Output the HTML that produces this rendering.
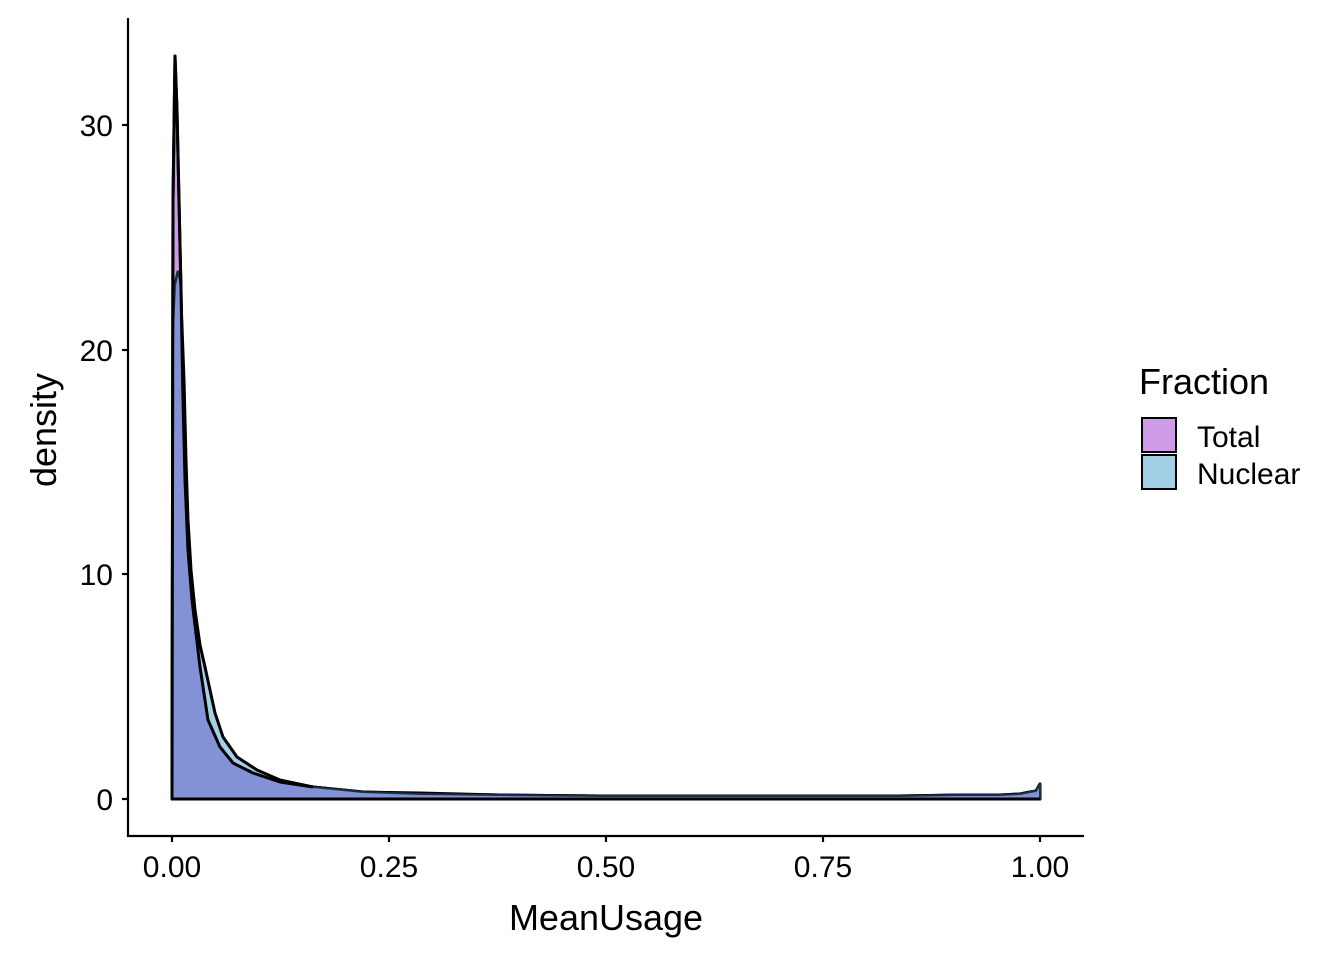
<!DOCTYPE html><html><head><style>body{margin:0;background:#fff}svg{display:block;font-family:"Liberation Sans",Arial,sans-serif}</style></head><body>
<svg width="1344" height="960" xmlns="http://www.w3.org/2000/svg">
<g stroke-linejoin="round">
<path d="M172,799 L173,200 L175,56 L177,110 L179,200 L181,290 L183,400 L185,480 L188,550 L192,600 L200,667 L208,720 L220,747 L233,763 L253,773 L280,782 L313,787 L363,792 L420,794 L500,795 L600,796 L700,796 L800,796 L900,796 L960,795 L1000,795 L1020,794 L1030,792 L1036,791 L1040,784 L1040,799 Z" fill="#CF9AE8" stroke="#000" stroke-width="3"/>
<path d="M172,799 L173,330 L175,285 L178,272 L181,300 L184,380 L186,460 L188,520 L191,570 L195,610 L200,645 L205,667 L215,713 L223,737 L237,757 L257,770 L280,780 L313,787 L363,792 L420,793 L500,795 L600,796 L700,796 L800,796 L900,796 L960,795 L1000,795 L1020,794 L1030,792 L1036,791 L1040,784 L1040,799 Z" fill="#A3D0E6" stroke="#000" stroke-width="3"/>
<path d="M172,799 L173,330 L175,285 L178,272 L180,280 L181,290 L183,400 L185,480 L188,550 L192,600 L200,667 L208,720 L220,747 L233,763 L253,773 L280,782 L313,787 L363,792 L420,794 L500,795 L600,796 L700,796 L800,796 L900,796 L960,795 L1000,795 L1020,794 L1030,792 L1036,791 L1040,784 L1040,799 Z" fill="#8391D6" stroke="#1a3040" stroke-width="2"/>
<path d="M172,799 L173,200 L175,56 L177,110 L179,200 L181,290 L183,400 L185,480 L188,550 L192,600 L200,667 L208,720 L220,747 L233,763 L253,773 L280,782 L313,787" fill="none" stroke="#000" stroke-width="3"/>
<line x1="172" y1="799" x2="1040" y2="799" stroke="#000" stroke-width="3"/>
</g>
<g stroke="#000" stroke-width="2.2">
<line x1="128" y1="18" x2="128" y2="837"/>
<line x1="127" y1="836" x2="1084" y2="836"/>
<line x1="122" y1="799" x2="128" y2="799"/><line x1="122" y1="574" x2="128" y2="574"/><line x1="122" y1="350" x2="128" y2="350"/><line x1="122" y1="125" x2="128" y2="125"/>
<line x1="172" y1="836" x2="172" y2="842"/><line x1="389" y1="836" x2="389" y2="842"/><line x1="606" y1="836" x2="606" y2="842"/><line x1="823" y1="836" x2="823" y2="842"/><line x1="1040" y1="836" x2="1040" y2="842"/>
</g>
<g font-size="30" fill="#000" text-anchor="end">
<text x="113" y="810">0</text><text x="113" y="585">10</text><text x="113" y="361">20</text><text x="113" y="136">30</text>
</g>
<g font-size="30" fill="#000" text-anchor="middle">
<text x="172" y="877">0.00</text><text x="389" y="877">0.25</text><text x="606" y="877">0.50</text><text x="823" y="877">0.75</text><text x="1040" y="877">1.00</text>
</g>
<text x="606" y="930" font-size="36" text-anchor="middle">MeanUsage</text>
<text transform="translate(56,430) rotate(-90)" font-size="36" text-anchor="middle">density</text>
<text x="1139" y="394" font-size="36">Fraction</text>
<rect x="1142" y="418" width="34" height="34" fill="#CF9AE8" stroke="#000" stroke-width="2"/>
<rect x="1142" y="455" width="34" height="34" fill="#A3D0E6" stroke="#000" stroke-width="2"/>
<text x="1197" y="447" font-size="30">Total</text>
<text x="1197" y="484" font-size="30">Nuclear</text>
</svg></body></html>
